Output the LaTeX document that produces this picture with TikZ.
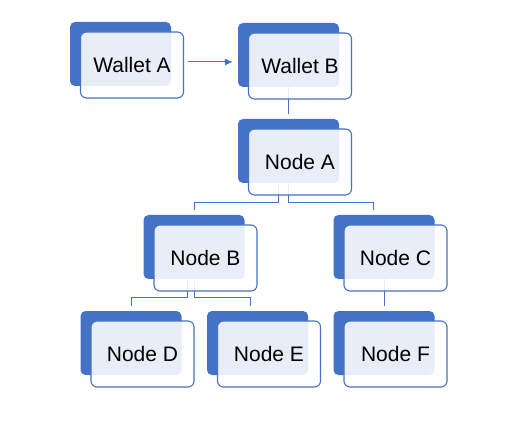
\documentclass[tikz,border=0pt]{standalone}
\usepackage{fontspec}
\setmainfont{Liberation Sans}
\usetikzlibrary{arrows.meta,backgrounds}
\definecolor{cardblue}{HTML}{4472C4}

\begin{document}
\begin{tikzpicture}[x=1pt,y=1pt,
	cardback/.style={draw=none,fill=cardblue,rounded corners=5pt,minimum width=101pt,minimum height=64pt,inner sep=0pt},
	cardfront/.style={draw=cardblue,line width=1.1pt,fill=white,fill opacity=0.88,text opacity=1,rounded corners=6pt,minimum width=103pt,minimum height=66pt,inner sep=0pt,font=\fontsize{21}{25}\selectfont},
	link/.style={cardblue,line width=1pt}]
	\useasboundingbox (0,0) rectangle (532,431);

	\foreach \id/\x/\y/\txt in {WalletA/120.5/377/Wallet A, WalletB/288.5/376/Wallet B, NodeA/288.5/280/Node A,
		NodeB/194/184/Node B, NodeC/384/184/Node C, NodeD/131/88/Node D, NodeE/257.5/88/Node E, NodeF/384/88/Node F}
	{
		\node[cardback] (\id Shade) at (\x,\y) {};
		\node[cardfront] (\id) at ([xshift=11.5pt,yshift=-11pt]\id Shade.center) {\txt};
	}

	\begin{scope}[on background layer]
	\draw[link,-{Latex[length=8pt,width=7pt]}] ([xshift=4pt,yshift=3pt]WalletA.east) -- ([xshift=-5pt,yshift=-7pt]WalletBShade.west);
	\draw[link] (WalletBShade.south) -- ([yshift=5pt]NodeAShade.north);

	\draw[link] ([xshift=-10.5pt]NodeAShade.south) -- ++(0,-19) -| ([yshift=5pt]NodeBShade.north);
	\draw[link] (NodeAShade.south) -- ++(0,-19) -| ([xshift=-11pt,yshift=5pt]NodeCShade.north);

	\draw[link] ([xshift=-7pt]NodeBShade.south) -- ++(0,-18) -| ([yshift=5pt]NodeDShade.north);
	\draw[link] (NodeBShade.south) -- ++(0,-18) -| ([xshift=-7.5pt,yshift=5pt]NodeEShade.north);
	\draw[link] (NodeCShade.south) -- ([yshift=5pt]NodeFShade.north);
	\end{scope}
\end{tikzpicture}
\end{document}
